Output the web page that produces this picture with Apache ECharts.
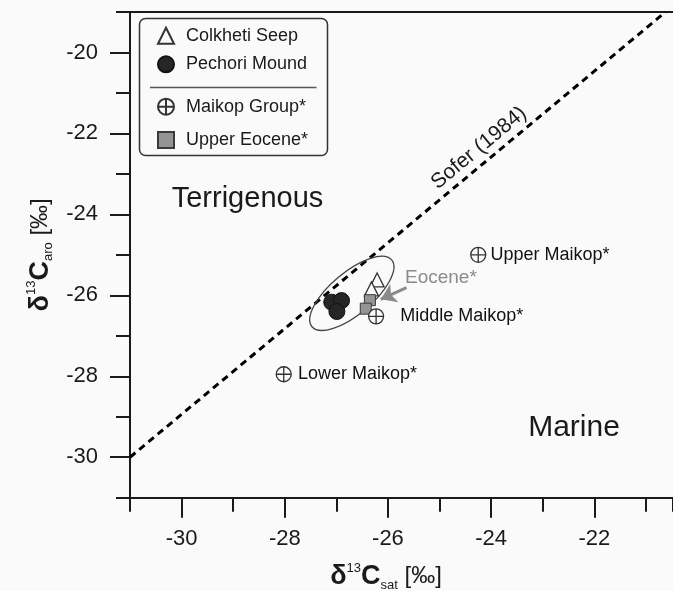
<!DOCTYPE html>
<html>
<head>
<meta charset="utf-8">
<script src="https://cdn.jsdelivr.net/npm/echarts@6/dist/echarts.min.js"></script>
<style>
  html, body { margin: 0; padding: 0; background: #fafafa; }
  #chart { width: 673px; height: 591px; }
</style>
</head>
<body>
<div id="chart"></div>
<script>
// δ13C of saturated (x) vs aromatic (y) hydrocarbon fractions, ‰
const colkhetiSeep = [[-26.21, -25.62], [-26.32, -25.84]];
const pechoriMound = [[-27.09, -26.17], [-26.90, -26.13], [-26.99, -26.40]];
const maikopGroup  = [[-24.25, -25.00], [-26.23, -26.52], [-28.02, -27.95]];
const maikopNames  = ['Upper Maikop*', 'Middle Maikop*', 'Lower Maikop*'];
const upperEocene  = [[-26.35, -26.12], [-26.43, -26.33]];
// Sofer (1984) terrigenous / marine divide
const soferLine    = [[-31, -30], [-20.62, -19]];
// Eocene* pointer and the cluster envelope (data coordinates)
const eoceneArrow  = [[-25.64, -25.81], [-26.14, -26.10]];
const clusterCenter = [-26.70, -25.95];

const xMajorTicks = [-30, -28, -26, -24, -22];
const yMajorTicks = [-30, -28, -26, -24, -22, -20];

const FONT = "'Liberation Sans', Arial, sans-serif";
const INK = '#1a1a1a';
const crossedCircle = 'path://M10,0A10,10,0,1,1,-10,0A10,10,0,1,1,10,0ZM-10,0L10,0M0,-10L0,10';
const maikopLabelGap = [4, 16, 6];

const chart = echarts.init(document.getElementById('chart'), null, { renderer: 'canvas' });

const axisLineStyle = { show: true, lineStyle: { color: INK, width: 2 } };
const baseX = { type: 'value', min: -31, max: -20.475, interval: 1, gridIndex: 0 };
const baseY = { type: 'value', min: -31, max: -19, interval: 1, gridIndex: 0 };

const nameRich = {
  b:   { fontFamily: FONT, fontSize: 27, fontWeight: 'bold', color: INK, lineHeight: 30 },
  sup: { fontFamily: FONT, fontSize: 13, color: INK, lineHeight: 14, verticalAlign: 'top' },
  sub: { fontFamily: FONT, fontSize: 13, color: INK, lineHeight: 12, verticalAlign: 'bottom' },
  n:   { fontFamily: FONT, fontSize: 24, color: INK, lineHeight: 30 }
};

const legendText = { fontFamily: FONT, fontSize: 18, color: INK, padding: [0, 0, 0, 7] };

const option = {
  backgroundColor: '#fafafa',
  animation: false,
  grid: { left: 130, right: 0, top: 12, bottom: 93.3, containLabel: false, outerBoundsMode: 'none' },
  xAxis: [
    Object.assign({}, baseX, {
      position: 'bottom',
      axisLine: axisLineStyle,
      axisTick: { show: true, inside: false, length: 14, lineStyle: { color: INK, width: 2 } },
      axisLabel: { customValues: xMajorTicks, margin: 30, fontFamily: FONT, fontSize: 22, color: INK },
      splitLine: { show: false },
      name: '{b|δ}{sup|13}{b|C}{sub|sat}{n| [‰]}',
      nameLocation: 'middle',
      nameGap: 64,
      nameTextStyle: { rich: nameRich, padding: [0, 31, 0, 0] }
    }),
    Object.assign({}, baseX, {
      position: 'bottom',
      axisLine: { show: false },
      axisTick: { show: true, customValues: xMajorTicks, length: 20, lineStyle: { color: INK, width: 2 } },
      axisLabel: { show: false },
      splitLine: { show: false }
    }),
    Object.assign({}, baseX, {
      position: 'top',
      axisLine: axisLineStyle,
      axisTick: { show: false },
      axisLabel: { show: false },
      splitLine: { show: false }
    })
  ],
  yAxis: [
    Object.assign({}, baseY, {
      position: 'left',
      axisLine: axisLineStyle,
      axisTick: { show: true, inside: false, length: 14, lineStyle: { color: INK, width: 2 } },
      axisLabel: { customValues: yMajorTicks, margin: 32, fontFamily: FONT, fontSize: 22, color: INK },
      splitLine: { show: false },
      name: '{b|δ}{sup|13}{b|C}{sub|aro}{n| [‰]}',
      nameLocation: 'middle',
      nameGap: 74,
      nameTextStyle: { rich: nameRich }
    }),
    Object.assign({}, baseY, {
      position: 'left',
      axisLine: { show: false },
      axisTick: { show: true, customValues: yMajorTicks, length: 20, lineStyle: { color: INK, width: 2 } },
      axisLabel: { show: false },
      splitLine: { show: false }
    })
  ],
  legend: [
    {
      data: ['Colkheti Seep', 'Pechori Mound'],
      orient: 'vertical', left: 157, top: 26.7, padding: 0,
      itemWidth: 16, itemHeight: 16, itemGap: 10.6, selectedMode: false,
      textStyle: legendText
    },
    {
      data: ['Maikop Group*', 'Upper Eocene*'],
      orient: 'vertical', left: 157, top: 97.7, padding: 0,
      itemWidth: 16, itemHeight: 16, itemGap: 15.3, selectedMode: false,
      textStyle: legendText
    }
  ],
  series: [
    {
      name: 'Sofer (1984)', type: 'line', data: soferLine,
      showSymbol: false, symbol: 'none', silent: true, z: 1,
      lineStyle: { color: '#000', width: 3, type: [7, 5] }
    },
    {
      name: 'Colkheti Seep', type: 'scatter', data: colkhetiSeep,
      symbol: 'triangle', symbolSize: 14, z: 3,
      itemStyle: { color: '#fafafa', borderColor: '#333', borderWidth: 1.3, opacity: 1 }
    },
    {
      name: 'Pechori Mound', type: 'scatter', data: pechoriMound,
      symbol: 'circle', symbolSize: 16, z: 3,
      itemStyle: { color: '#262626', borderColor: '#111', borderWidth: 1, opacity: 1 }
    },
    {
      name: 'Upper Eocene*', type: 'scatter', data: upperEocene,
      symbol: 'rect', symbolSize: 11, z: 4,
      itemStyle: { color: '#949494', borderColor: '#3a3a3a', borderWidth: 1, opacity: 1 },
      markLine: {
        silent: true, animation: false,
        symbol: ['none', 'arrow'], symbolSize: 15,
        label: { show: false },
        lineStyle: { color: '#8a8a8a', width: 3, type: 'solid', opacity: 1 },
        data: [[{ coord: eoceneArrow[0] }, { coord: eoceneArrow[1] }]]
      }
    },
    {
      name: 'Maikop Group*', type: 'scatter', z: 5,
      data: maikopGroup.map((p, i) => ({
        value: p,
        label: { show: true, position: 'right', distance: maikopLabelGap[i], formatter: maikopNames[i] }
      })),
      symbol: crossedCircle, symbolSize: 15,
      itemStyle: { color: '#fafafa', borderColor: '#333', borderWidth: 1.3, opacity: 1 },
      label: { fontFamily: FONT, fontSize: 18, color: '#111' }
    }
  ]
};

chart.setOption(option);

// Annotations placed after the scales exist
const c = chart.convertToPixel({ gridIndex: 0 }, clusterCenter);
chart.setOption({
  graphic: [
    {
      type: 'rect', silent: true, z: 1,
      shape: { x: 139.5, y: 18.5, width: 188, height: 137, r: 6 },
      style: { fill: null, stroke: '#333', lineWidth: 1.5 }
    },
    {
      type: 'line', silent: true, z: 1,
      shape: { x1: 150, y1: 87.5, x2: 316.5, y2: 87.5 },
      style: { stroke: '#555', lineWidth: 1.5 }
    },
    {
      type: 'ellipse', silent: true, z: 2,
      x: c[0], y: c[1], rotation: 40 * Math.PI / 180,
      shape: { cx: 0, cy: 0, rx: 52, ry: 21 },
      style: { fill: null, stroke: '#444', lineWidth: 1.3 }
    },
    {
      type: 'text', silent: true, z: 5, x: 247.5, y: 199,
      style: { text: 'Terrigenous', fontFamily: FONT, fontSize: 29, fill: INK, align: 'center', verticalAlign: 'middle' }
    },
    {
      type: 'text', silent: true, z: 5, x: 574, y: 428,
      style: { text: 'Marine', fontFamily: FONT, fontSize: 30, fill: INK, align: 'center', verticalAlign: 'middle' }
    },
    {
      type: 'text', silent: true, z: 5, x: 479, y: 148, rotation: 39.7 * Math.PI / 180,
      style: { text: 'Sofer (1984)', fontFamily: FONT, fontSize: 21, fill: INK, align: 'center', verticalAlign: 'middle' }
    },
    {
      type: 'text', silent: true, z: 5, x: 405, y: 278,
      style: { text: 'Eocene*', fontFamily: FONT, fontSize: 19, fill: '#8a8a8a', align: 'left', verticalAlign: 'middle' }
    }
  ]
});
</script>
</body>
</html>
